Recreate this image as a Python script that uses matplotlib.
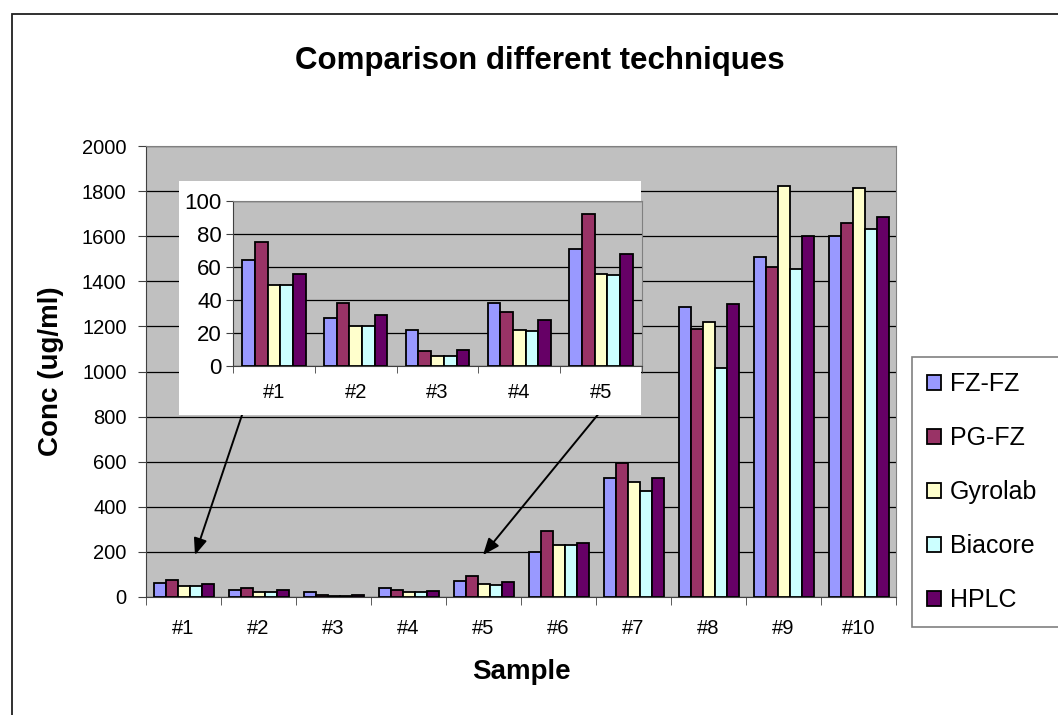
import matplotlib.pyplot as plt
import numpy as np
from matplotlib.patches import Rectangle

plt.rcParams['font.family'] = ['Liberation Sans', 'DejaVu Sans']

samples = ["#1", "#2", "#3", "#4", "#5", "#6", "#7", "#8", "#9", "#10"]
methods = ["FZ-FZ", "PG-FZ", "Gyrolab", "Biacore", "HPLC"]
colors = ["#9999FF", "#993366", "#FFFFCC", "#CCFFFF", "#660066"]

fz_fz = [64, 29, 22, 38, 71, 200, 527, 1285, 1506, 1600]
pg_fz = [75, 38, 9, 33, 92, 292, 593, 1187, 1462, 1657]
gyrolab = [49, 24, 6, 22, 56, 230, 509, 1218, 1821, 1812]
biacore = [49, 24, 6, 21, 55, 230, 470, 1015, 1453, 1630]
hplc = [56, 31, 10, 28, 68, 239, 527, 1298, 1600, 1683]
series = [fz_fz, pg_fz, gyrolab, biacore, hplc]

fig = plt.figure(figsize=(10.58, 7.15), dpi=100)

# outer frame
fig.patches.append(Rectangle((12 / 1058, -0.05), 1.1, 0.05 + 701 / 715,
                             transform=fig.transFigure, fill=False,
                             edgecolor="#202020", linewidth=1.3, zorder=0))

ax = fig.add_axes([146 / 1058, 118 / 715, 750 / 1058, 451 / 715])
ax.set_facecolor("#C0C0C0")
x = np.arange(len(samples))
w = 0.16
for i, (vals, c, name) in enumerate(zip(series, colors, methods)):
    ax.bar(x + (i - 2) * w, vals, w, color=c, edgecolor="black",
           linewidth=1.3, label=name, zorder=3)
ax.set_xlim(-0.5, 9.5)
ax.set_ylim(0, 2000)
ax.set_yticks(range(0, 2001, 200))
ax.yaxis.grid(True, color="black", linewidth=0.9, zorder=1)
ax.set_xticks(x)
ax.set_xticklabels(samples, fontsize=14.5)
ax.set_xticks(np.arange(-0.5, 10, 1), minor=True)
ax.tick_params(axis="x", which="major", length=0, pad=16)
ax.tick_params(axis="x", which="minor", length=6, color="#404040")
ax.tick_params(axis="y", labelsize=14.5, length=6, pad=8, color="#404040")
for s in ["top", "right"]:
    ax.spines[s].set_color("#808080")
for s in ["left", "bottom"]:
    ax.spines[s].set_color("#404040")
ax.set_xlabel("Sample", fontsize=20, fontweight="bold", labelpad=15)
ax.set_ylabel("Conc (ug/ml)", fontsize=20, fontweight="bold", labelpad=13)
fig.text(540 / 1058, 1 - 69 / 715, "Comparison different techniques",
         ha="center", va="baseline", fontsize=22.5, fontweight="bold")

# inset panel for the low-concentration samples
fig.patches.append(Rectangle((179 / 1058, 300 / 715), 462 / 1058, 234 / 715,
                             transform=fig.transFigure, facecolor="white",
                             edgecolor="none", zorder=5))
ins = fig.add_axes([233 / 1058, 349 / 715, 409 / 1058, 165 / 715], zorder=6)
ins.set_facecolor("#C0C0C0")
xi = np.arange(5)
wi = 0.155
for i, (vals, c) in enumerate(zip(series, colors)):
    ins.bar(xi + (i - 2) * wi, vals[:5], wi, color=c, edgecolor="black",
            linewidth=1.3, zorder=3)
ins.set_xlim(-0.5, 4.5)
ins.set_ylim(0, 100)
ins.set_yticks(range(0, 101, 20))
ins.yaxis.grid(True, color="black", linewidth=0.9, zorder=1)
ins.set_xticks(xi)
ins.set_xticklabels(samples[:5], fontsize=14.5)
ins.set_xticks(np.arange(-0.5, 5, 1), minor=True)
ins.tick_params(axis="x", which="major", length=0, pad=12)
ins.tick_params(axis="x", which="minor", length=5, color="#404040")
ins.tick_params(axis="y", labelsize=16, length=5, pad=3, color="#404040")
for s in ["top", "right"]:
    ins.spines[s].set_color("#808080")
for s in ["left", "bottom"]:
    ins.spines[s].set_color("#404040")

# arrows from the inset down to samples #1 and #5
arrow = dict(arrowstyle="-|>,head_length=1.0,head_width=0.4", color="black",
             linewidth=1.4, shrinkA=0, shrinkB=0)
ax.annotate("", xy=(0.153, 186), xytext=(0.793, 820), arrowprops=arrow,
            annotation_clip=False, zorder=7)
ax.annotate("", xy=(3.993, 186), xytext=(5.553, 820), arrowprops=arrow,
            annotation_clip=False, zorder=7)

handles, labels = ax.get_legend_handles_labels()
leg = fig.legend(handles, labels, loc="upper left",
                 bbox_to_anchor=(912 / 1058, 358 / 715, 0.2, 0.0),
                 mode="expand", fontsize=18, labelspacing=1.2,
                 handlelength=0.55, handleheight=0.55, handletextpad=0.35,
                 borderpad=0.6, borderaxespad=0, fancybox=False,
                 edgecolor="#808080", framealpha=1)
leg.get_frame().set_linewidth(1.2)

fig.savefig("out.png", dpi=100)
